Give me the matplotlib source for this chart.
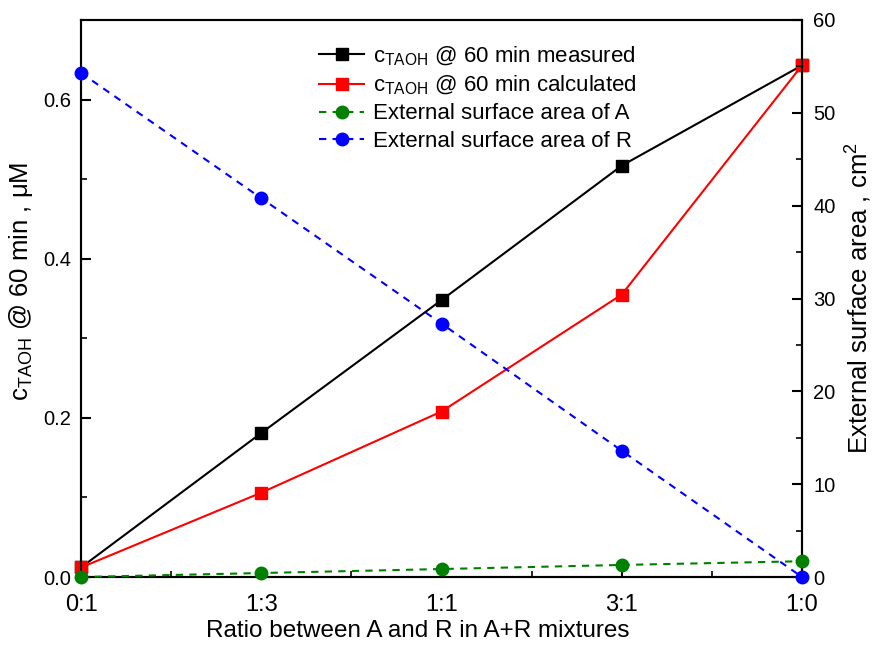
import numpy as np
import matplotlib
matplotlib.use('Agg')
import matplotlib.pyplot as plt
from matplotlib.ticker import MultipleLocator

plt.rcParams['font.family'] = ['Liberation Sans', 'DejaVu Sans']
plt.rcParams['mathtext.fontset'] = 'custom'
plt.rcParams['mathtext.rm'] = 'Liberation Sans'
plt.rcParams['mathtext.it'] = 'Liberation Sans:italic'

# data
ratios = ['0:1', '1:3', '1:1', '3:1', '1:0']
c_measured = [0.012, 0.181, 0.348, 0.517, 0.643]
c_calculated = [0.012, 0.106, 0.208, 0.355, 0.643]
area_A = [0.0, 0.43, 0.86, 1.3, 1.7]
area_R = [54.3, 40.8, 27.3, 13.6, 0.0]

x = np.arange(len(ratios))

fig = plt.figure(figsize=(8.75, 6.45), dpi=100)
ax = fig.add_axes([0.0926, 0.1054, 0.824, 0.8636])
ax2 = ax.twinx()

l1, = ax.plot(x, c_measured, '-s', color='black', lw=1.5, ms=8,
              label=r'c$_{\rm TAOH}$ @ 60 min measured', clip_on=False, zorder=3)
l2, = ax.plot(x, c_calculated, '-s', color='red', lw=1.5, ms=8,
              label=r'c$_{\rm TAOH}$ @ 60 min calculated', clip_on=False, zorder=3)
l3, = ax2.plot(x, area_A, '--o', color='green', lw=1.5, ms=9, dashes=(3.5, 3),
               label='External surface area of A', clip_on=False, zorder=3)
l4, = ax2.plot(x, area_R, '--o', color='blue', lw=1.5, ms=9, dashes=(3.5, 3),
               label='External surface area of R', clip_on=False, zorder=3)

ax.set_xlim(0, 4)
ax.set_ylim(0, 0.7)
ax2.set_ylim(0, 60)

ax.set_xticks(x)
ax.set_xticklabels(ratios)
ax.xaxis.set_minor_locator(MultipleLocator(0.5))
ax.yaxis.set_major_locator(MultipleLocator(0.2))
ax.yaxis.set_minor_locator(MultipleLocator(0.1))
ax2.yaxis.set_major_locator(MultipleLocator(10))
ax2.yaxis.set_minor_locator(MultipleLocator(5))

for a in (ax, ax2):
    for s in a.spines.values():
        s.set_linewidth(1.5)
    a.tick_params(which='major', direction='in', length=7, width=1.5, labelsize=14.5)
    a.tick_params(which='minor', direction='in', length=4, width=1.2)
ax.tick_params(axis='x', which='major', pad=12, labelsize=17)
ax.tick_params(axis='y', which='major', pad=7)
ax2.tick_params(axis='y', which='major', pad=8)

ax.set_xlabel('Ratio between A and R in A+R mixtures', fontsize=17.5, labelpad=3, x=0.467)
ax.set_ylabel(r'c$_{\rm TAOH}$ @ 60 min , μM', fontsize=18.5, labelpad=6, y=0.53)
ax2.set_ylabel(r'External surface area , cm$^2$', fontsize=18.5, labelpad=6)

ax.legend(handles=[l1, l2, l3, l4], loc='upper left', bbox_to_anchor=(0.312, 0.98),
          frameon=False, fontsize=16, handlelength=2.0, handletextpad=0.4,
          labelspacing=0.28, borderaxespad=0.2)

fig.savefig('out.png', dpi=100)
